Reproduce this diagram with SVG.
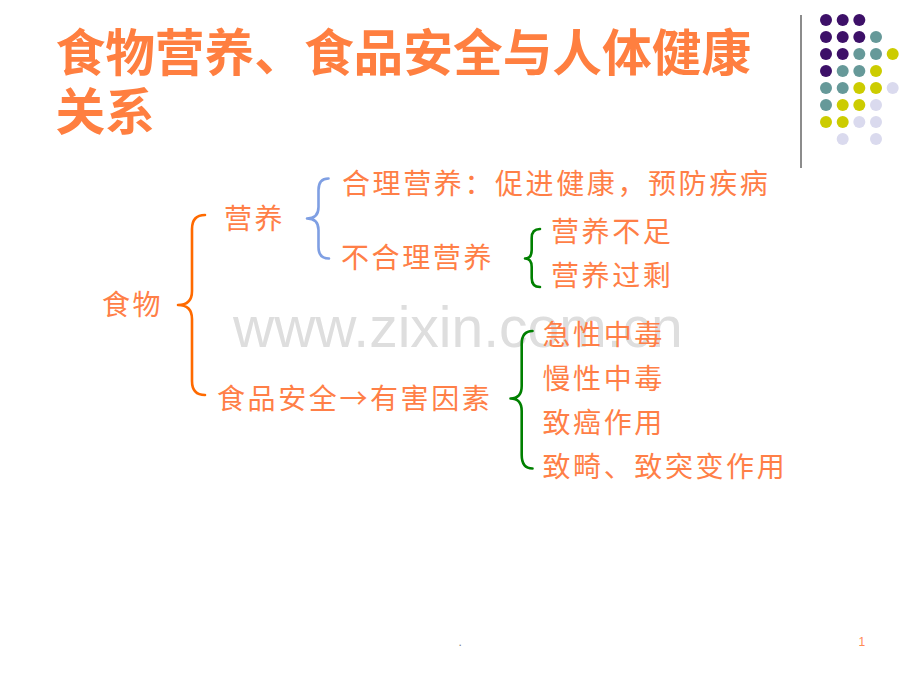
<svg xmlns="http://www.w3.org/2000/svg" width="920" height="690" viewBox="0 0 920 690">
<style>
.t{font-family:"Noto Sans CJK SC","Noto Sans",sans-serif;font-size:28px;fill:#FF7F47;letter-spacing:2.6px}
.title{font-family:"Noto Sans CJK SC","Noto Sans",sans-serif;font-size:49.7px;font-weight:bold;fill:#FF7F40}
.br{fill:none;stroke-width:2.6;stroke-linecap:round;stroke-linejoin:round}
.p{fill:#3d1068}.g{fill:#669999}.y{fill:#cccc00}.l{fill:#dadaee}
</style>
<rect width="920" height="690" fill="#ffffff"/>
<g id="decor">
<line x1="801" y1="15" x2="801" y2="168" stroke="#8c8c8c" stroke-width="2"/>
<circle class="p" cx="826" cy="20" r="6"/><circle class="p" cx="842.7" cy="20" r="6"/><circle class="p" cx="859.3" cy="20" r="6"/>
<circle class="p" cx="826" cy="37" r="6"/><circle class="p" cx="842.7" cy="37" r="6"/><circle class="p" cx="859.3" cy="37" r="6"/><circle class="g" cx="876" cy="37" r="6"/>
<circle class="p" cx="826" cy="54" r="6"/><circle class="p" cx="842.7" cy="54" r="6"/><circle class="g" cx="859.3" cy="54" r="6"/><circle class="g" cx="876" cy="54" r="6"/><circle class="y" cx="892.7" cy="54" r="6"/>
<circle class="p" cx="826" cy="71" r="6"/><circle class="g" cx="842.7" cy="71" r="6"/><circle class="g" cx="859.3" cy="71" r="6"/><circle class="y" cx="876" cy="71" r="6"/>
<circle class="g" cx="826" cy="88" r="6"/><circle class="g" cx="842.7" cy="88" r="6"/><circle class="y" cx="859.3" cy="88" r="6"/><circle class="y" cx="876" cy="88" r="6"/><circle class="l" cx="892.7" cy="88" r="6"/>
<circle class="g" cx="826" cy="105" r="6"/><circle class="y" cx="842.7" cy="105" r="6"/><circle class="y" cx="859.3" cy="105" r="6"/><circle class="l" cx="876" cy="105" r="6"/>
<circle class="y" cx="826" cy="122" r="6"/><circle class="y" cx="842.7" cy="122" r="6"/><circle class="l" cx="859.3" cy="122" r="6"/><circle class="l" cx="876" cy="122" r="6"/>
<circle class="l" cx="842.7" cy="139" r="6"/><circle class="l" cx="876" cy="139" r="6"/>
</g>
<g id="title">
<text class="title" x="55.5" y="71">食物营养、食品安全与人体健康</text>
<text class="title" x="55.5" y="130">关系</text>
</g>
<text x="233" y="347" font-family="Liberation Sans, Arial, sans-serif" font-size="57" fill="#dedede">www.zixin.com.cn</text>
<g id="connectors">
<path class="br" stroke="#FF6A00" d="M205,215 Q192,215 192,229 L192,291 Q192,305 178,305 Q192,305 192,319 L192,381 Q192,395 205,395"/>
<path class="br" stroke="#7F9FE3" d="M328.5,178.5 Q318.5,178.5 318.5,190 L318.5,207 Q318.5,218.5 307,218.5 Q318.5,218.5 318.5,230 L318.5,247 Q318.5,258.5 329,258.5"/>
<path class="br" stroke="#008000" d="M540,229 Q531.7,229 531.7,238 L531.7,250 Q531.7,258.5 525,258.5 Q531.7,258.5 531.7,267 L531.7,278 Q531.7,287 540,287"/>
<path class="br" stroke="#008000" d="M532.5,331 Q521.7,331 521.7,344 L521.7,386 Q521.7,398.5 510.5,398.5 Q521.7,398.5 521.7,411 L521.7,455 Q521.7,468.5 532.5,468.5"/>
</g>
<g id="food"><text class="t" x="102" y="315">食物</text></g>
<g id="nutrition"><text class="t" x="224" y="229">营养</text></g>
<g id="reasonable"><text class="t" x="342" y="194">合理营养：促进健康，预防疾病</text></g>
<g id="unreasonable"><text class="t" x="341" y="268">不合理营养</text></g>
<g id="deficit"><text class="t" x="551" y="242">营养不足</text></g>
<g id="excess"><text class="t" x="551" y="286">营养过剩</text></g>
<g id="safety"><text class="t" x="217" y="408.5">食品安全→有害因素</text></g>
<g id="acute"><text class="t" x="542.5" y="344.5">急性中毒</text></g>
<g id="chronic"><text class="t" x="542.5" y="388.8">慢性中毒</text></g>
<g id="cancer"><text class="t" x="542.5" y="433.1">致癌作用</text></g>
<g id="teratogenic"><text class="t" x="542.5" y="477.4">致畸、致突变作用</text></g>
<g id="footer">
<text x="458.5" y="646" font-family="Liberation Sans, Arial, sans-serif" font-size="12" fill="#808080">.</text>
<text x="858.5" y="646" font-family="Liberation Sans, Arial, sans-serif" font-size="12" fill="#FF8A55">1</text>
</g>
</svg>
